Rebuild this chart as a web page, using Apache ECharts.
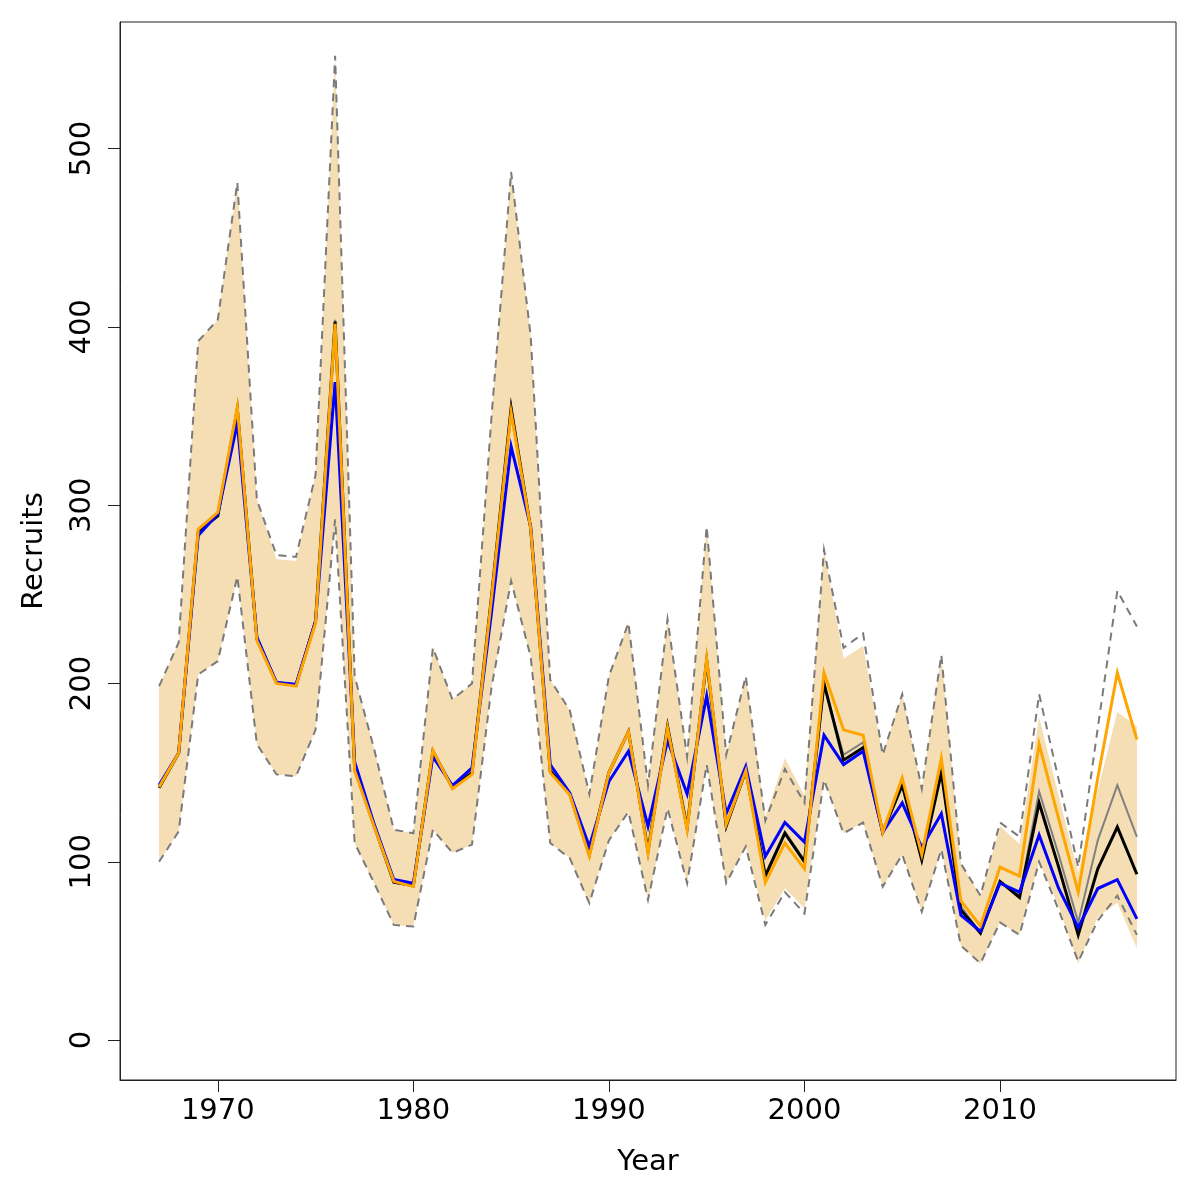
<!DOCTYPE html>
<html>
<head>
<meta charset="utf-8">
<script src="https://cdn.jsdelivr.net/npm/echarts@6/dist/echarts.min.js"></script>
<style>
html,body{margin:0;padding:0;background:#fff;}
#chart{width:1200px;height:1200px;}
</style>
</head>
<body>
<div id="chart"></div>
<script>
// ---- data ----
var years = [1967,1968,1969,1970,1971,1972,1973,1974,1975,1976,1977,1978,1979,1980,1981,1982,1983,1984,1985,1986,1987,1988,1989,1990,1991,1992,1993,1994,1995,1996,1997,1998,1999,2000,2001,2002,2003,2004,2005,2006,2007,2008,2009,2010,2011,2012,2013,2014,2015,2016,2017];

var dashedUpper = [198.5,223,392,404,481,303,272,271,317,552,204,163,118,116,220,191,200,350,487,395,202,185,138,204,234,143,236,159,288,160,204,123,152,133,275,220,228,160,194,141,216,99,81,122,114,194,146,97,175,252,232];
var dashedLower = [100,117,205,212.5,260,166,149,148,174,292,110.5,88,64.6,63.7,118,105,109.6,198,257.5,215,110.5,102,76.8,112,128,78.6,130,88,154.5,88,108.6,64.6,83,71,146,116,122,86,104,72,107,53,43,66,59,100,73,44,67,81,59];

var bandUpper = [198.5,223,392,404,481,303,269.7,268.7,317,552,204,163,118,116,220,191,200,350,487,395,202,185,138,204,234,143,236,159,288,160,204,125,158,137,275,214,221,160,194,141,216,99,81,120,110,181,137,94,140,184,176];
var bandLower = [100,117,205,212.5,260,166,149,148,174,292,110.5,88,64.6,63.7,118,105,109.6,198,257.5,215,110.5,102,76.8,112,128,78.6,130,88,154.5,88,108.6,67,85,74,146,116,122,86,104,72,107,53,43,66,59,100,75,43,69,77,51.5];

var orangeLine = [142,161,286.5,296,355,224,200,198.5,234,401.7,151,119.6,89,86,162.5,141,149,248,352,287,150,137.6,103,150,173,105,175,118,214,121,151,88.4,110.5,96,206,174,171,116.5,147,104,158,78,64,97,92,166,124,83,147,206,168.5];
var blueLine = [143,161,283,295,346,226,200.5,199.5,235,369,156,121,90,88,159,142.7,152.6,240,333,288,154.5,138.6,108.6,145,162,120,168,138,193,127,153.5,103,122,111,171,154.5,162,116.5,133,108,127,70,61,88,83,115,85,63,85,90,68];
var blackLine = [141.5,161,285,294,354,225,200.5,199,235,403,152,120,88.5,86.5,162,141.5,150,249,354.5,287,151,138,104,150,173,106,176,119,213,120,151,92,116,100,200,157,164,116.5,143,101,150,73,60,89,80,133,97,59,96,119.5,93];
var grayLine = [141.5,161,285,294,354,225,200.5,199,235,404,152,120,88.5,86.5,162,141.5,150,249,355,287,151,138,104,150,173,106,176,119,213,120,151,93,117,101,199,160,167,116.5,144,101,151,75,60,89,81,139.5,104,66,112,143,114];

var xTicks = [1970,1980,1990,2000,2010];
var yTicks = [0,100,200,300,400,500];

function pairs(arr){ return years.map(function(y,i){ return [y, arr[i]]; }); }

var chart = echarts.init(document.getElementById('chart'), null, {renderer:'canvas'});
var FONT = 'DejaVu Sans';

function lineSeries(name, arr, color, width, dash, z){
  return {
    name: name, type:'line', data: pairs(arr), symbol:'none', z: z,
    lineStyle:{color:color, width:width, type: dash || 'solid', cap:'butt', join:'miter'},
    silent:true
  };
}

var option = {
  animation:false,
  backgroundColor:'#fff',
  grid:{left:120, right:24, top:22, bottom:120, show:true, borderColor:'#222', borderWidth:1, backgroundColor:'transparent'},
  xAxis:{
    type:'value', min:1965, max:2019,
    name:'Year', nameLocation:'middle', nameGap:68,
    nameTextStyle:{fontFamily:FONT, fontSize:29, color:'#000'},
    axisLine:{show:true, onZero:false, lineStyle:{color:'#222', width:1}},
    axisTick:{show:true, length:12, lineStyle:{color:'#222', width:1}, customValues:xTicks},
    axisLabel:{customValues:xTicks, fontFamily:FONT, fontSize:29, color:'#000', margin:17,
      formatter:function(v){ return String(v); }},
    splitLine:{show:false}
  },
  yAxis:{
    type:'value', min:-22.4, max:571,
    name:'Recruits', nameLocation:'middle', nameGap:71,
    nameTextStyle:{fontFamily:FONT, fontSize:29, color:'#000'},
    axisLine:{show:true, onZero:false, lineStyle:{color:'#222', width:1}},
    axisTick:{show:true, length:12, lineStyle:{color:'#222', width:1}, customValues:yTicks},
    axisLabel:{customValues:yTicks, rotate:90, fontFamily:FONT, fontSize:29, color:'#000', margin:23,
      formatter:function(v){ return String(v); }},
    splitLine:{show:false}
  },
  series:[
    {
      type:'custom', name:'band', z:1, silent:true,
      data:[[years[0], bandLower[0]]],
      renderItem:function(params, api){
        if (params.dataIndex !== 0) return;
        var pts = [];
        for (var i=0;i<years.length;i++) pts.push(api.coord([years[i], bandUpper[i]]));
        for (var j=years.length-1;j>=0;j--) pts.push(api.coord([years[j], bandLower[j]]));
        return {type:'polygon', shape:{points:pts}, style:{fill:'#F5DEB3', stroke:null}};
      }
    },
    lineSeries('upper', dashedUpper, '#7a7a7a', 2, [8,6], 2),
    lineSeries('lower', dashedLower, '#7a7a7a', 2, [8,6], 2),
    lineSeries('gray', grayLine, '#808080', 2, null, 3),
    lineSeries('black', blackLine, '#000000', 3, null, 4),
    lineSeries('blue', blueLine, '#0000FF', 3, null, 5),
    lineSeries('orange', orangeLine, '#FFA500', 3, null, 6)
  ]
};
chart.setOption(option);
</script>
</body>
</html>
